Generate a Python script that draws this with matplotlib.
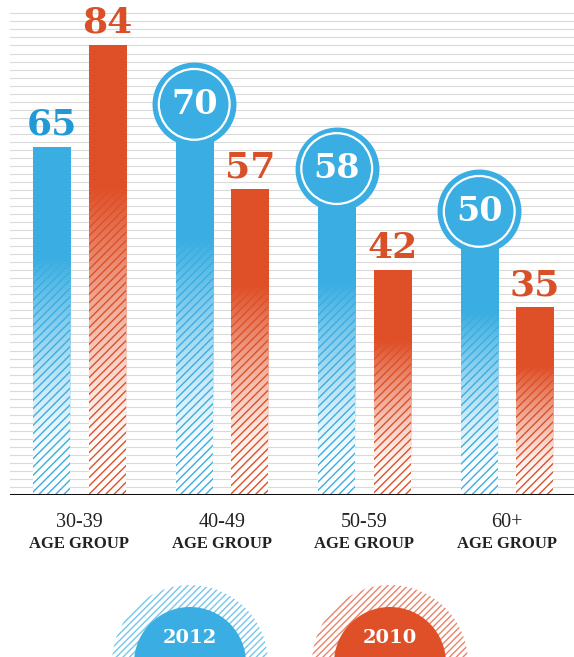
import numpy as np
import matplotlib.pyplot as plt
from matplotlib.patches import Circle
from matplotlib.colors import to_rgb

# data
groups = ['30-39', '40-49', '50-59', '60+']
vals_2012 = [65, 70, 58, 50]
vals_2010 = [84, 57, 42, 35]
series_names = ['2012', '2010']

blue = '#3aaee2'
red = '#df5028'
blue_txt = '#1f9ad6'
red_txt = '#d94f27'

plt.rcParams['hatch.linewidth'] = 1.0

fig = plt.figure(figsize=(5.74, 6.57), dpi=100)
ax = fig.add_axes([10 / 574, (657 - 495) / 657, 564 / 574, 495 / 657])

x = np.arange(len(groups))
w = 0.26
off = 0.195


def grad_bar(xc, h, color):
    # hatched bar underneath, solid colour fading out towards the bottom
    ax.bar(xc, h, w, facecolor='white', edgecolor=color, hatch='////',
           linewidth=0, zorder=2)
    t = np.linspace(0, 1, 200)[:, None]
    a = np.clip((t - 0.08) / 0.6, 0, 1) ** 1.3
    rgba = np.zeros((200, 1, 4))
    rgba[..., :3] = to_rgb(color)
    rgba[..., 3] = a
    ax.imshow(rgba, extent=(xc - w / 2, xc + w / 2, 0, h), origin='lower',
              aspect='auto', zorder=3, interpolation='bilinear')


# background stripes
for yy in np.arange(1.5, 91, 1.5):
    ax.axhline(yy, color='#dadada', lw=0.8, zorder=0)

for i in range(len(groups)):
    xb = x[i] - off
    xr = x[i] + off
    grad_bar(xb, vals_2012[i], blue)
    grad_bar(xr, vals_2010[i], red)

    # red value labels above the bars
    ax.annotate(str(vals_2010[i]), (xr, vals_2010[i]), xytext=(0, 4),
                textcoords='offset points', ha='center', va='bottom',
                fontsize=26, fontweight='bold', family='DejaVu Serif',
                color=red_txt, zorder=6)

    # blue values: first plain, the rest in badges
    if i == 0:
        ax.annotate(str(vals_2012[i]), (xb, vals_2012[i]), xytext=(0, 4),
                    textcoords='offset points', ha='center', va='bottom',
                    fontsize=26, fontweight='bold', family='DejaVu Serif',
                    color=blue_txt, zorder=6)
    else:
        cy = vals_2012[i] + 3
        ax.scatter([xb], [cy], s=3650, color=blue, zorder=5, linewidths=0)
        ax.scatter([xb], [cy], s=2600, facecolor='none', edgecolor='white',
                   linewidths=1.6, zorder=6)
        ax.text(xb, cy, str(vals_2012[i]), ha='center', va='center',
                fontsize=24, fontweight='bold', family='DejaVu Serif',
                color='white', zorder=7)

ax.axhline(0, color='#111111', lw=2.2, zorder=8)

ax.set_xlim(-69.5 / 142.5, (574 - 79.5) / 142.5)
ax.set_ylim(0, 92.5)
ax.axis('off')

for i, g in enumerate(groups):
    ax.annotate(g, (x[i], 0), xytext=(0, -20), textcoords='offset points',
                ha='center', va='center', fontsize=14.5,
                family='Liberation Serif', color='#222222')
    ax.annotate('AGE GROUP', (x[i], 0), xytext=(0, -35),
                textcoords='offset points', ha='center', va='center',
                fontsize=12, fontweight='bold', family='Liberation Serif',
                color='#222222')

# legend badges at the bottom
lax = fig.add_axes([0, 0, 1, 1])
lax.set_xlim(0, 574)
lax.set_ylim(657, 0)
lax.axis('off')
for cx, col, name in [(190, blue, series_names[0]), (390, red, series_names[1])]:
    lax.add_patch(Circle((cx, 663), 78, facecolor='white', edgecolor=col,
                         hatch='/////', linewidth=0, alpha=0.7))
    lax.add_patch(Circle((cx, 663), 56, facecolor=col, edgecolor='none'))
    lax.text(cx, 638, name, ha='center', va='center', fontsize=14,
             fontweight='bold', family='DejaVu Serif', color='white')

fig.savefig('out.png', dpi=100)
